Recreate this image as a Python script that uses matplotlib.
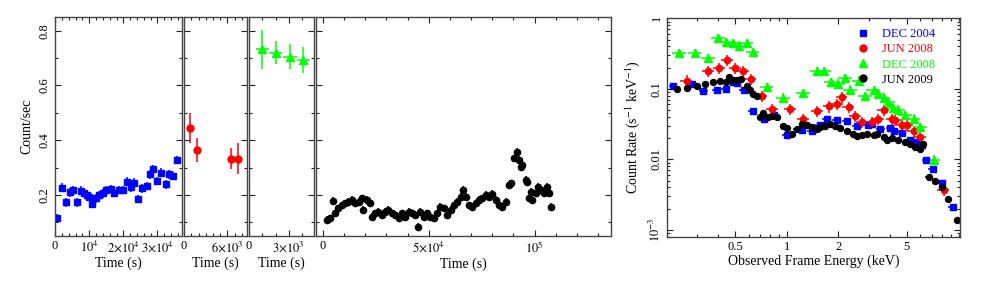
import numpy as np
import matplotlib
matplotlib.use("Agg")
import matplotlib.pyplot as plt
from matplotlib.ticker import MultipleLocator, FixedLocator, NullFormatter, LogLocator
from matplotlib.lines import Line2D

# =====================
# fonts
# =====================
plt.rcParams['font.family'] = ['Liberation Serif', 'DejaVu Serif']
plt.rcParams['mathtext.fontset'] = 'stix'
plt.rcParams['axes.unicode_minus'] = False

# =====================
# light curves (time in s, rate in count/s)
# =====================
t_dec04 = [0.7e3, 1.9e3, 3.1e3, 4.3e3, 5.3e3, 6.5e3, 7.5e3, 8.5e3, 9.4e3, 9.9e3,
           10.9e3, 12.1e3, 12.8e3, 14.0e3, 15.0e3, 16.4e3, 17.4e3, 18.6e3, 19.8e3,
           21.0e3, 22.2e3, 23.2e3, 24.4e3, 25.6e3, 26.8e3, 27.7e3, 28.8e3, 29.9e3,
           31.0e3, 32.4e3, 33.3e3, 34.5e3, 35.7e3]
r_dec04 = [0.115, 0.227, 0.173, 0.210, 0.218, 0.173, 0.215, 0.208, 0.200, 0.194,
           0.167, 0.188, 0.200, 0.206, 0.218, 0.222, 0.208, 0.218, 0.218,
           0.249, 0.228, 0.245, 0.185, 0.224, 0.233, 0.276, 0.294, 0.251,
           0.281, 0.239, 0.276, 0.269, 0.328]

t_jun08 = [0.8e3, 1.8e3, 6.5e3, 7.5e3]
r_jun08 = [0.446, 0.364, 0.333, 0.333]
e_jun08 = [0.055, 0.045, 0.04, 0.057]

t_dec08 = [1.0e3, 2.0e3, 3.1e3, 4.1e3]
r_dec08 = [0.732, 0.720, 0.705, 0.693]
e_dec08 = [0.072, 0.043, 0.045, 0.048]

t_jun09 = [1.9e3, 3.5e3, 5.0e3, 5.8e3, 7.4e3, 9.0e3, 10.6e3, 12.1e3, 13.7e3, 15.3e3,
           16.9e3, 18.5e3, 19.2e3, 20.8e3, 22.4e3, 23.2e3, 24.8e3, 26.3e3, 27.9e3,
           29.5e3, 31.0e3, 32.7e3, 34.2e3, 35.8e3, 37.4e3, 39.0e3, 40.5e3, 42.1e3,
           43.7e3, 44.8e3, 46.1e3, 47.6e3, 49.2e3, 50.8e3, 52.4e3, 54.0e3, 55.5e3,
           57.1e3, 58.7e3, 60.3e3, 61.8e3, 63.4e3, 65.0e3, 66.3e3, 67.4e3, 68.9e3,
           70.5e3, 72.1e3, 73.6e3, 75.3e3, 76.8e3, 78.4e3, 80.0e3, 81.6e3, 83.1e3,
           84.7e3, 86.3e3, 87.9e3, 89.0e3, 90.2e3, 91.5e3, 92.6e3, 93.4e3, 94.2e3,
           95.8e3, 96.6e3, 97.3e3, 98.1e3, 98.9e3, 100.5e3, 101.6e3, 102.9e3,
           104.4e3, 105.7e3, 106.8e3, 107.6e3]
r_jun09 = [0.109, 0.115, 0.178, 0.133, 0.151, 0.163, 0.170, 0.176, 0.182, 0.170,
           0.176, 0.188, 0.145, 0.182, 0.170, 0.121, 0.133, 0.139, 0.127,
           0.139, 0.145, 0.133, 0.127, 0.115, 0.133, 0.121, 0.139, 0.133,
           0.127, 0.084, 0.139, 0.121, 0.133, 0.121, 0.115, 0.133, 0.157,
           0.151, 0.127, 0.145, 0.163, 0.176, 0.194, 0.218, 0.194, 0.163,
           0.157, 0.170, 0.182, 0.188, 0.200, 0.194, 0.204, 0.182, 0.163,
           0.157, 0.176, 0.237, 0.243, 0.334, 0.358, 0.328, 0.303, 0.310,
           0.255, 0.249, 0.188, 0.212, 0.182, 0.206, 0.230, 0.218,
           0.206, 0.230, 0.206, 0.157]

# =====================
# spectra (energy in keV, rate in s^-1 keV^-1)
# =====================
E_dec04 = [0.218, 0.279, 0.327, 0.391, 0.443, 0.489, 0.511, 0.564, 0.634, 0.738,
           0.843, 1.0, 1.22, 1.40, 1.56, 1.71, 1.96, 2.24, 2.56, 2.99, 3.13, 3.50,
           4.0, 4.22, 4.68, 5.23, 5.72, 6.12, 6.48, 7.09, 8.0, 9.27]
S_dec04 = [0.111, 0.118, 0.092, 0.097, 0.100, 0.124, 0.120, 0.095, 0.049, 0.037,
           0.043, 0.0223, 0.0257, 0.0251, 0.0303, 0.0377, 0.0365, 0.0348, 0.0293,
           0.0303, 0.0313, 0.0272, 0.0277, 0.0251, 0.0236, 0.0186, 0.0176, 0.0158,
           0.0097, 0.0072, 0.0046, 0.0021]

E_jun08 = [0.261, 0.349, 0.405, 0.451, 0.500, 0.555, 0.617, 0.715, 0.818, 1.045,
           1.25, 1.51, 1.77, 1.96, 2.09, 2.29, 2.50, 2.76, 3.13, 3.42, 3.66, 4.09,
           4.28, 4.68, 5.0, 5.47, 5.98, 8.18]
S_jun08 = [0.131, 0.177, 0.198, 0.257, 0.198, 0.181, 0.137, 0.080, 0.052, 0.052,
           0.0377, 0.0483, 0.0562, 0.0614, 0.076, 0.055, 0.041, 0.0337, 0.0337,
           0.0377, 0.0505, 0.0377, 0.0365, 0.0303, 0.0303, 0.0251, 0.0207, 0.0037]

E_dec08 = [0.237, 0.292, 0.349, 0.399, 0.443, 0.484, 0.530, 0.585, 0.634, 0.765,
           0.955, 1.25, 1.50, 1.65, 1.80, 2.00, 2.19, 2.34, 2.65, 2.86, 3.20, 3.42,
           3.66, 3.91, 4.18, 4.47, 4.89, 5.47, 5.98, 7.15]
S_dec08 = [0.319, 0.319, 0.275, 0.526, 0.456, 0.448, 0.409, 0.442, 0.330, 0.105,
           0.075, 0.087, 0.177, 0.177, 0.124, 0.118, 0.143, 0.097, 0.131, 0.078,
           0.095, 0.085, 0.075, 0.065, 0.054, 0.0505, 0.0419, 0.0377, 0.0286, 0.0099]

E_jun09 = [0.229, 0.261, 0.299, 0.334, 0.373, 0.409, 0.443, 0.463, 0.484, 0.511,
           0.540, 0.585, 0.611, 0.639, 0.668, 0.699, 0.731, 0.782, 0.818, 0.875,
           0.948, 1.0, 1.08, 1.14, 1.22, 1.31, 1.40, 1.50, 1.56, 1.67, 1.79, 1.91,
           2.05, 2.24, 2.44, 2.56, 2.74, 2.93, 3.20, 3.35, 3.66, 3.83, 4.09, 4.47,
           4.89, 5.23, 5.60, 5.98, 6.25, 6.69, 7.31, 8.0, 8.74, 9.79]
S_jun09 = [0.100, 0.103, 0.108, 0.118, 0.124, 0.128, 0.124, 0.149, 0.134, 0.134,
           0.138, 0.111, 0.095, 0.085, 0.078, 0.0396, 0.0452, 0.0396, 0.0406, 0.0396,
           0.0293, 0.0281, 0.0231, 0.0272, 0.0313, 0.0303, 0.0286, 0.0272, 0.0286,
           0.0293, 0.0320, 0.0293, 0.0281, 0.0249, 0.0231, 0.0211, 0.0218, 0.0231,
           0.0218, 0.0231, 0.0207, 0.0190, 0.0203, 0.0190, 0.0176, 0.0167, 0.0149,
           0.0142, 0.0167, 0.0056, 0.0050, 0.0041, 0.0027, 0.00137]

BLUE = '#0000ff'
RED = '#ff0000'
GREEN = '#00ff00'
BLACK = '#000000'

# =====================
# figure
# =====================
fig = plt.figure(figsize=(9.81, 2.83), dpi=100)

bot, hgt = 0.166, 0.774
ax1 = fig.add_axes([0.0561, bot, 0.1295, hgt])
ax2 = fig.add_axes([0.1876, bot, 0.0642, hgt])
ax3 = fig.add_axes([0.2538, bot, 0.0663, hgt])
ax4 = fig.add_axes([0.3221, bot, 0.3007, hgt])
ax5 = fig.add_axes([0.6796, 0.1636, 0.2990, 0.7717])


def style(ax):
    ax.tick_params(which='both', direction='in', top=True, right=True,
                   labelsize=9, pad=3, width=0.8, colors='#222222',
                   labelcolor='black')
    ax.tick_params(which='major', length=4.5)
    ax.tick_params(which='minor', length=2.5)
    for s in ax.spines.values():
        s.set_linewidth(1.0)
        s.set_color('#444444')


ebkw = dict(linestyle='none', elinewidth=1.1, capsize=0)

# light-curve panels
ax1.errorbar(t_dec04, r_dec04, xerr=450, yerr=0.016, marker='s', ms=4.3,
             color=BLUE, **ebkw)
ax2.errorbar(t_jun08, r_jun08, xerr=400, yerr=e_jun08, marker='o', ms=5,
             color=RED, **ebkw)
ax3.errorbar(t_dec08, r_dec08, xerr=500, yerr=e_dec08, marker='^', ms=6,
             color=GREEN, **ebkw)
ax4.errorbar(t_jun09, r_jun09, xerr=500, yerr=0.013, marker='o', ms=4.5,
             color=BLACK, **ebkw)

ax1.set_xlim(0, 3.72e4)
ax2.set_xlim(0, 8.7e3)
ax3.set_xlim(0, 4.9e3)
ax4.set_xlim(-3.2e3, 1.36e5)

ax1.set_xticks([0, 1e4, 2e4, 3e4])
ax1.set_xticklabels(['0', r'$10^4$', r'$2{\times}10^4$', r'$3{\times}10^4$'])
ax1.xaxis.set_minor_locator(MultipleLocator(2e3))
ax2.set_xticks([0, 6e3])
ax2.set_xticklabels(['0', r'$6{\times}10^3$'])
ax2.xaxis.set_minor_locator(MultipleLocator(1e3))
ax3.set_xticks([0, 3e3])
ax3.set_xticklabels(['0', r'$3{\times}10^3$'])
ax3.xaxis.set_minor_locator(MultipleLocator(1e3))
ax4.set_xticks([0, 5e4, 1e5])
ax4.set_xticklabels(['0', r'$5{\times}10^4$', r'$10^5$'])
ax4.xaxis.set_minor_locator(MultipleLocator(1e4))

for ax in (ax1, ax2, ax3, ax4):
    ax.set_ylim(0.05, 0.85)
    ax.yaxis.set_major_locator(MultipleLocator(0.2))
    ax.yaxis.set_minor_locator(MultipleLocator(0.1))
    style(ax)
    ax.set_xlabel('Time (s)', fontsize=10, labelpad=1)
    if ax is not ax1:
        ax.tick_params(labelleft=False)

for lab in ax1.get_yticklabels():
    lab.set_rotation(90)
    lab.set_va('center')
ax1.set_ylabel('Count/sec', fontsize=10, labelpad=4)

# spectrum panel
ax5.set_xscale('log')
ax5.set_yscale('log')
ax5.errorbar(E_dec04, S_dec04, xerr=[np.array(E_dec04) * 0.06, np.array(E_dec04) * 0.06],
             yerr=[np.array(S_dec04) * 0.1, np.array(S_dec04) * 0.1],
             marker='s', ms=4, color=BLUE, **ebkw)
ax5.errorbar(E_jun08, S_jun08, xerr=[np.array(E_jun08) * 0.08, np.array(E_jun08) * 0.08],
             yerr=[np.array(S_jun08) * 0.18, np.array(S_jun08) * 0.18],
             marker='o', ms=4.5, color=RED, **ebkw)
ax5.errorbar(E_dec08, S_dec08, xerr=[np.array(E_dec08) * 0.09, np.array(E_dec08) * 0.09],
             yerr=[np.array(S_dec08) * 0.15, np.array(S_dec08) * 0.15],
             marker='^', ms=5.5, color=GREEN, **ebkw)
ax5.errorbar(E_jun09, S_jun09, xerr=[np.array(E_jun09) * 0.04, np.array(E_jun09) * 0.04],
             yerr=[np.array(S_jun09) * 0.08, np.array(S_jun09) * 0.08],
             marker='o', ms=4.3, color=BLACK, **ebkw)

ax5.set_xlim(0.2, 10.2)
ax5.set_ylim(8.0e-4, 1.0)
ax5.xaxis.set_major_locator(FixedLocator([0.5, 1, 2, 5]))
ax5.xaxis.set_minor_locator(FixedLocator([0.2, 0.3, 0.4, 0.6, 0.7, 0.8, 0.9,
                                          3, 4, 6, 7, 8, 9, 10]))
ax5.set_xticklabels(['0.5', '1', '2', '5'])
ax5.xaxis.set_minor_formatter(NullFormatter())
ax5.yaxis.set_major_locator(FixedLocator([1e-3, 1e-2, 1e-1, 1]))
ax5.set_yticklabels([r'$10^{-3}$', '0.01', '0.1', '1'])
ax5.yaxis.set_minor_locator(LogLocator(base=10, subs=np.arange(2, 10)))
ax5.yaxis.set_minor_formatter(NullFormatter())
style(ax5)
for lab in ax5.get_yticklabels():
    lab.set_rotation(90)
    lab.set_va('center')
ax5.set_xlabel('Observed Frame Energy (keV)', fontsize=10, labelpad=1)
ax5.set_ylabel(r'Count Rate (s$^{-1}$ keV$^{-1}$)', fontsize=10, labelpad=4)

handles = [
    Line2D([], [], linestyle='none', marker='s', ms=4.5, color=BLUE),
    Line2D([], [], linestyle='none', marker='o', ms=5, color=RED),
    Line2D([], [], linestyle='none', marker='^', ms=6, color=GREEN),
    Line2D([], [], linestyle='none', marker='o', ms=5, color=BLACK),
]
leg = ax5.legend(handles, ['DEC 2004', 'JUN 2008', 'DEC 2008', 'JUN 2009'],
                 loc='upper right', frameon=False, fontsize=9,
                 handlelength=1.0, handletextpad=1.0, labelspacing=0.25,
                 borderaxespad=0.4, bbox_to_anchor=(0.95, 1.0))
for txt, c in zip(leg.get_texts(), [BLUE, RED, GREEN, BLACK]):
    txt.set_color(c)

fig.savefig('out.png', dpi=100)
